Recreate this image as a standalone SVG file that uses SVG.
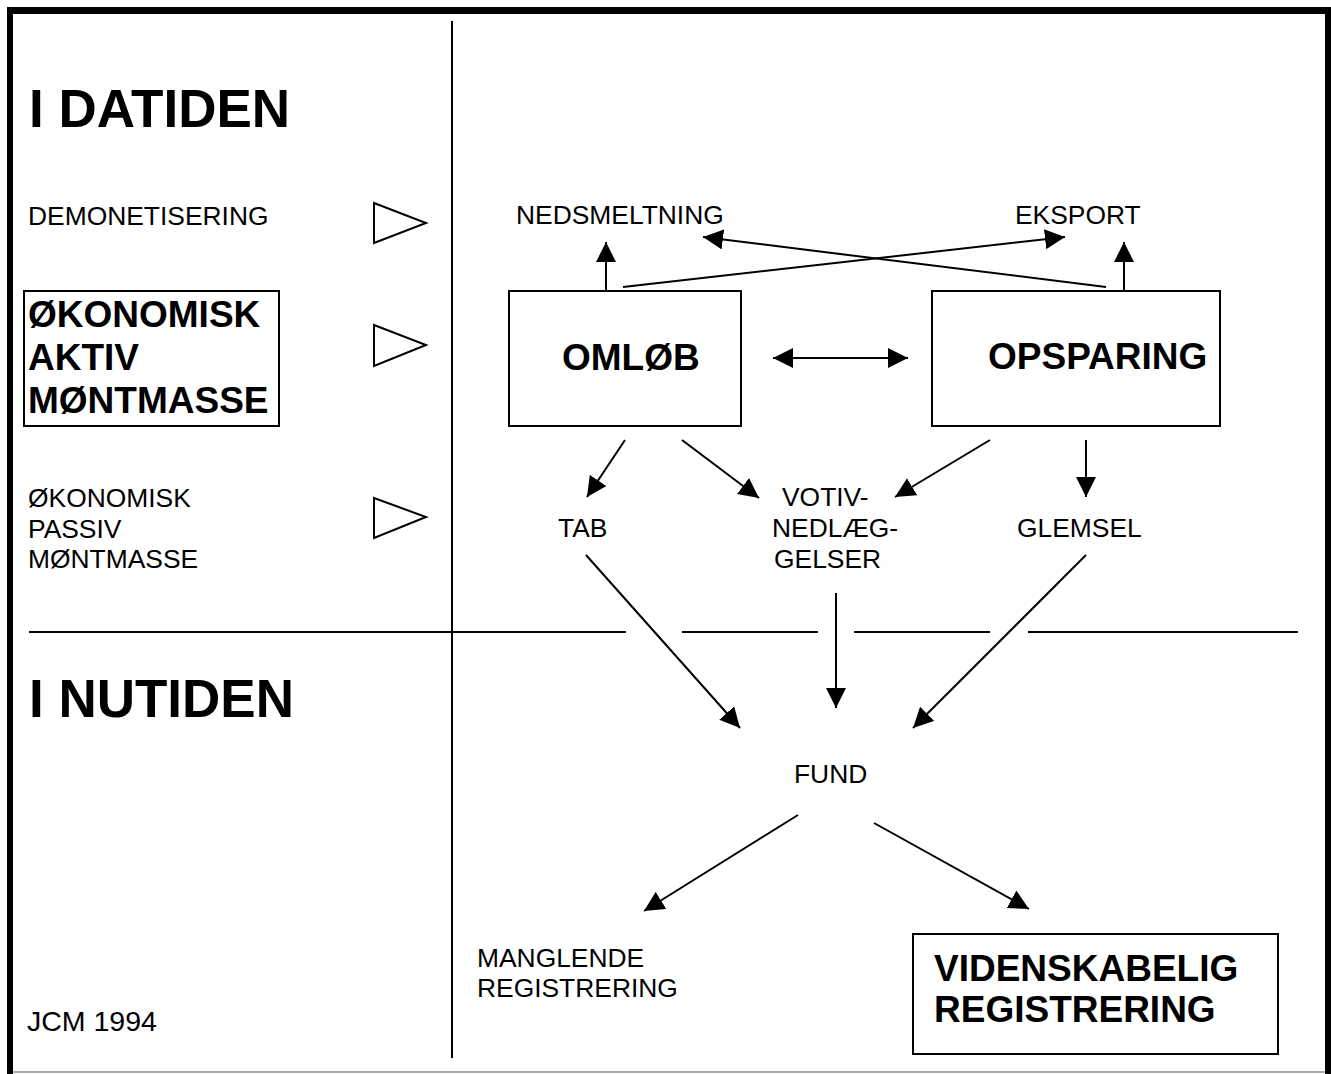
<svg xmlns="http://www.w3.org/2000/svg" width="1331" height="1074" viewBox="0 0 1331 1074">
<style>
text{font-family:"Liberation Sans",Arial,sans-serif;fill:#000}
.r{font-size:26.4px}
.b{font-size:37px;font-weight:bold}
.t{font-size:53px;font-weight:bold}
.box{fill:#fff;stroke:#000;stroke-width:2}
.tri{fill:#fff;stroke:#000;stroke-width:2;stroke-linejoin:miter}
.div{stroke:#000;stroke-width:2;fill:none}
.c{stroke:#000;stroke-width:2;fill:none;marker-end:url(#ah)}
</style>
<defs>
<marker id="ah" markerUnits="userSpaceOnUse" viewBox="0 0 20 20" markerWidth="20" markerHeight="20" refX="20" refY="10" orient="auto-start-reverse">
<path d="M0,0 L20,10 L0,20 z" fill="#000"/>
</marker>
</defs>
<rect width="1331" height="1074" fill="#fff"/>
<g id="frame">
<line x1="7" y1="10.5" x2="1331" y2="10.5" stroke="#000" stroke-width="7"/>
<line x1="10" y1="7" x2="10" y2="1074" stroke="#000" stroke-width="6"/>
<line x1="1328" y1="7" x2="1328" y2="1074" stroke="#000" stroke-width="6"/>
<line x1="13" y1="1072" x2="1325" y2="1072" stroke="#aaa" stroke-width="2"/>
<line class="div" x1="452" y1="21" x2="452" y2="1058"/>
<path class="div" d="M29,632 H626 M682,632 H818 M854,632 H990 M1028,632 H1298"/>
</g>
<g id="legend">
<text class="t" x="29" y="127">I DATIDEN</text>
<text class="r" x="28" y="225">DEMONETISERING</text>
<g id="aktiv">
<rect class="box" x="24" y="291" width="255" height="135"/>
<text class="b" x="28" y="327">ØKONOMISK</text>
<text class="b" x="28" y="370">AKTIV</text>
<text class="b" x="28" y="413">MØNTMASSE</text>
</g>
<text class="r" x="28" y="507">ØKONOMISK</text>
<text class="r" x="28" y="538">PASSIV</text>
<text class="r" x="28" y="568">MØNTMASSE</text>
<polygon class="tri" points="374,203 426,223 374,243"/>
<polygon class="tri" points="374,325 426,345 374,366"/>
<polygon class="tri" points="374,498 426,517 374,538"/>
<text class="t" x="29" y="717">I NUTIDEN</text>
<text x="27" y="1031" style="font-size:28.5px">JCM 1994</text>
</g>
<g id="connectors">
<line class="c" x1="606" y1="300" x2="606" y2="242"/>
<line class="c" x1="623" y1="287" x2="1065" y2="237"/>
<line class="c" x1="1106" y1="287" x2="703" y2="237"/>
<line class="c" x1="1124" y1="300" x2="1124" y2="242"/>
<line class="c" x1="773" y1="358" x2="908" y2="358" marker-start="url(#ah)"/>
<line class="c" x1="625" y1="440" x2="587" y2="497"/>
<line class="c" x1="682" y1="440" x2="759" y2="498"/>
<line class="c" x1="990" y1="440" x2="895" y2="497"/>
<line class="c" x1="1086" y1="440" x2="1086" y2="497"/>
<line class="c" x1="586" y1="555" x2="740" y2="728"/>
<line class="c" x1="836" y1="593" x2="836" y2="708"/>
<line class="c" x1="1086" y1="555" x2="913" y2="728"/>
<line class="c" x1="798" y1="815" x2="644" y2="911"/>
<line class="c" x1="874" y1="823" x2="1029" y2="909"/>
</g>
<g id="omlob">
<rect class="box" x="509" y="291" width="232" height="135"/>
<text class="b" x="562" y="370">OMLØB</text>
</g>
<g id="opsparing">
<rect class="box" x="932" y="291" width="288" height="135"/>
<text class="b" x="988" y="369">OPSPARING</text>
</g>
<g id="nedsmeltning"><text class="r" x="516" y="224">NEDSMELTNING</text></g>
<g id="eksport"><text class="r" x="1015" y="224">EKSPORT</text></g>
<g id="tab"><text class="r" x="558" y="537">TAB</text></g>
<g id="votiv">
<text class="r" x="782" y="506">VOTIV-</text>
<text class="r" x="772" y="537">NEDLÆG-</text>
<text class="r" x="774" y="568">GELSER</text>
</g>
<g id="glemsel"><text class="r" x="1017" y="537">GLEMSEL</text></g>
<g id="fund"><text class="r" x="794" y="783">FUND</text></g>
<g id="manglende">
<text class="r" x="477" y="967">MANGLENDE</text>
<text class="r" x="477" y="997">REGISTRERING</text>
</g>
<g id="videnskabelig">
<rect class="box" x="913" y="934" width="365" height="120"/>
<text class="b" x="934" y="981">VIDENSKABELIG</text>
<text class="b" x="934" y="1022">REGISTRERING</text>
</g>
</svg>
